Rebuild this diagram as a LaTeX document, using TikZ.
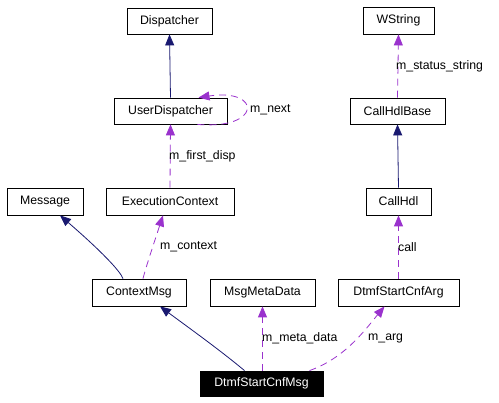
\documentclass[tikz,border=0pt]{standalone}
\usepackage{fontspec}
\setmainfont{Liberation Sans}
\usetikzlibrary{arrows.meta,calc}
\definecolor{inh}{RGB}{25,25,112}
\definecolor{usg}{RGB}{154,50,205}
\tikzset{
  cls/.style={draw=black, line width=0.8pt, fill=white, inner sep=0pt, font=\fontsize{12.3}{14}\selectfont, text=black},
  inhe/.style={draw=inh, line width=0.8pt, -{Triangle[length=11pt,width=9pt]}, inh},
  dep/.style={draw=usg, line width=0.8pt, dash pattern=on 7pt off 5pt, -{Triangle[length=11pt,width=9pt]}, usg},
  lbl/.style={font=\fontsize{12.3}{14}\selectfont, text=black, anchor=west, inner sep=0pt}
}
\begin{document}
\begin{tikzpicture}[x=1pt,y=-1pt]
\useasboundingbox (0,0) rectangle (499,403);
\node[cls, minimum width=85pt, minimum height=26pt] (disp) at (169.5,21) {Dispatcher};
\node[cls, minimum width=71pt, minimum height=27pt] (wstr) at (398.5,20.5) {WString};
\node[cls, minimum width=113pt, minimum height=26pt] (ud) at (170.5,111) {UserDispatcher};
\node[cls, minimum width=95pt, minimum height=26pt] (chb) at (397.5,111) {CallHdlBase};
\node[cls, minimum width=76pt, minimum height=27pt] (msg) at (45,201.5) {Message};
\node[cls, minimum width=128pt, minimum height=27pt] (ec) at (170,201.5) {ExecutionContext};
\node[cls, minimum width=65pt, minimum height=27pt] (ch) at (398.5,201.5) {CallHdl};
\node[cls, minimum width=94pt, minimum height=27pt] (cm) at (139,292.5) {ContextMsg};
\node[cls, minimum width=105pt, minimum height=27pt] (mmd) at (262.5,292.5) {MsgMetaData};
\node[cls, minimum width=121pt, minimum height=27pt] (dsa) at (398.5,292.5) {DtmfStartCnfArg};
\node[cls, fill=black, text=white, minimum width=123pt, minimum height=25pt] (dsm) at (261.5,383.5) {DtmfStartCnfMsg};

% inheritance
\draw[inhe] (ud.north) -- (disp.south);
\draw[inhe] (ch.north) -- (chb.south);
\draw[inhe] ([xshift=-16pt]cm.north) .. controls ($([xshift=-16pt]cm.north)+(-3,-8)$) and (100,250) .. ([xshift=15pt]msg.south);
\draw[inhe] ([xshift=-17pt]dsm.north) .. controls (220,350) and (185,325) .. ([xshift=21pt]cm.south);

% usage
\draw[dep] (chb.north) -- (wstr.south);
\draw[dep] (ec.north) -- (ud.south);
\draw[dep] (dsa.north) -- (ch.south);
\draw[dep] (mmd.south |- dsm.north) -- (mmd.south);
\draw[dep] ([xshift=4pt]cm.north) .. controls ($([xshift=4pt]cm.north)+(3,-12)$) and (155,240) .. ([xshift=-7pt]ec.south);
\draw[dep] ([xshift=48pt]dsm.north) .. controls (345,358) and (365,330) .. ([xshift=-14pt]dsa.south);
\draw[dep] ([xshift=27pt]ud.south) .. controls (262,130) and (262,88) .. ([xshift=28pt]ud.north);

% labels
\node[lbl] (l1) at (396,66) {m\_status\_string};
\node[lbl] (l2) at (250,110) {m\_next};
\node[lbl] (l3) at (169,156) {m\_first\_disp};
\node[lbl] (l4) at (160,247) {m\_context};
\node[lbl] (l5) at (398,247) {call};
\node[lbl] (l6) at (262,338) {m\_meta\_data};
\node[lbl] (l7) at (368,338) {m\_arg};
\end{tikzpicture}
\end{document}
